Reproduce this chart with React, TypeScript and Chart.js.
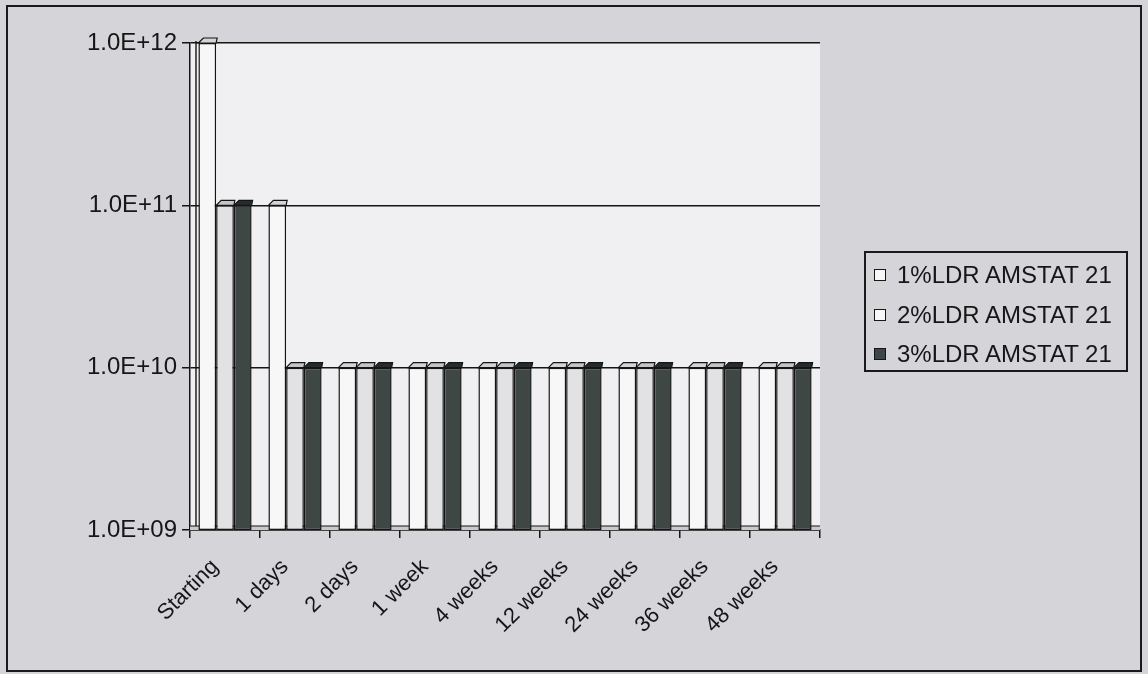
import React, { useEffect, useRef } from "react";
import { Chart, registerables } from "chart.js";

Chart.register(...registerables);

const categories = ["Starting", "1 days", "2 days", "1 week", "4 weeks", "12 weeks", "24 weeks", "36 weeks", "48 weeks"];
const seriesNames = ["1%LDR AMSTAT 21", "2%LDR AMSTAT 21", "3%LDR AMSTAT 21"];
const ldr1 = [1e12, 1e11, 1e10, 1e10, 1e10, 1e10, 1e10, 1e10, 1e10];
const ldr2 = [1e11, 1e10, 1e10, 1e10, 1e10, 1e10, 1e10, 1e10, 1e10];
const ldr3 = [1e11, 1e10, 1e10, 1e10, 1e10, 1e10, 1e10, 1e10, 1e10];
const yTicks = [1e9, 1e10, 1e11, 1e12];

const FILLS = ["#f7f7f8", "#e2e2e4", "#3f4745"];
const TOPS = ["#d4d4d6", "#c4c4c6", "#262c2b"];
const FONT = '"Liberation Sans", Arial, sans-serif';

const wallPlugin = {
  id: "wall",
  beforeDraw(chart: any) {
    const { ctx, chartArea } = chart;
    const { left, top, right, bottom } = chartArea;
    ctx.save();
    ctx.fillStyle = "#f0f0f2";
    ctx.fillRect(left, top, right - left, bottom - top);
    ctx.restore();
  },
  beforeDatasetsDraw(chart: any) {
    const { ctx, chartArea } = chart;
    const { left, top, right, bottom } = chartArea;
    ctx.save();
    // floor strip
    ctx.fillStyle = "#c9c9cc";
    ctx.fillRect(left, bottom - 4, right - left, 4);
    ctx.strokeStyle = "#151515";
    ctx.lineWidth = 1;
    ctx.beginPath();
    ctx.moveTo(left, bottom - 4);
    ctx.lineTo(right, bottom - 4);
    ctx.stroke();
    // left side wall edge
    ctx.lineWidth = 1.4;
    ctx.beginPath();
    ctx.moveTo(left + 6, top - 2);
    ctx.lineTo(left + 6, bottom - 4);
    ctx.stroke();
    ctx.restore();
  },
};

const topFacePlugin = {
  id: "topFace",
  afterDatasetsDraw(chart: any) {
    const { ctx } = chart;
    const d = 5;
    ctx.save();
    const n = chart.data.labels.length;
    for (let c = 0; c < n; c++) {
      for (let s = 0; s < chart.data.datasets.length; s++) {
        const el = chart.getDatasetMeta(s).data[c];
        if (!el) continue;
        const { x, y, width } = el.getProps(["x", "y", "width"], true);
        const x0 = x - width / 2;
        const x1 = x + width / 2;
        ctx.beginPath();
        ctx.moveTo(x0, y);
        ctx.lineTo(x0 + d, y - d);
        ctx.lineTo(x1 + d * 0.2, y - d);
        ctx.lineTo(x1, y);
        ctx.closePath();
        ctx.fillStyle = TOPS[s];
        ctx.fill();
        ctx.lineWidth = 1.2;
        ctx.strokeStyle = "#151515";
        ctx.stroke();
      }
    }
    ctx.restore();
  },
};

function fmt(v: number) {
  const e = Math.round(Math.log10(v));
  return "1.0E+" + String(e).padStart(2, "0");
}

export default function App() {
  const ref = useRef<HTMLCanvasElement | null>(null);

  useEffect(() => {
    if (!ref.current) return;
    const chart = new Chart(ref.current, {
      type: "bar",
      data: {
        labels: categories,
        datasets: [ldr1, ldr2, ldr3].map((data, i) => ({
          label: seriesNames[i],
          data,
          backgroundColor: FILLS[i],
          borderColor: "#151515",
          borderWidth: 1.5,
          borderSkipped: false,
          categoryPercentage: 0.76,
          barPercentage: 1.0,
        })),
      },
      options: {
        animation: false,
        responsive: false,
        devicePixelRatio: 1,
        layout: { padding: { left: 0, top: 43, right: 328, bottom: 0 } },
        plugins: {
          legend: { display: false },
          tooltip: { enabled: false },
        },
        scales: {
          x: {
            offset: true,
            grid: {
              display: true,
              offset: true,
              drawOnChartArea: false,
              drawTicks: true,
              tickLength: 8,
              color: "#151515",
              lineWidth: 1.5,
            },
            border: { display: true, color: "#151515", width: 1.5 },
            ticks: {
              minRotation: 45,
              maxRotation: 45,
              autoSkip: false,
              padding: 16,
              labelOffset: -10,
              color: "#161616",
              font: { family: FONT, size: 22 },
            },
            afterFit(scale: any) {
              scale.height = 144;
            },
          },
          y: {
            type: "logarithmic",
            min: 1e9,
            max: 1e12,
            afterBuildTicks(scale: any) {
              scale.ticks = yTicks.map((v) => ({ value: v }));
            },
            afterFit(scale: any) {
              scale.width = 190;
            },
            grid: {
              color: "#151515",
              lineWidth: 1.5,
              drawTicks: true,
              tickLength: 8,
            },
            border: { display: true, color: "#151515", width: 1.5 },
            ticks: {
              padding: 5,
              color: "#161616",
              font: { family: FONT, size: 24 },
              callback: (v: any) => fmt(Number(v)),
            },
          },
        },
      },
      plugins: [wallPlugin, topFacePlugin],
    });
    return () => chart.destroy();
  }, []);

  return (
    <div style={{ position: "fixed", left: 0, top: 0, width: 1148, height: 674, background: "#d4d4d9", overflow: "hidden" }}>
      <div
        style={{
          position: "absolute",
          left: 6,
          top: 5,
          width: 1136,
          height: 667,
          border: "2px solid #1a1a1a",
          boxSizing: "border-box",
        }}
      />
      <canvas ref={ref} width={1148} height={674} style={{ position: "absolute", left: 0, top: 0, width: 1148, height: 674 }} />
      <div
        style={{
          position: "absolute",
          left: 864,
          top: 251,
          width: 264,
          height: 121,
          border: "2px solid #1a1a1a",
          boxSizing: "border-box",
          fontFamily: FONT,
          fontSize: 24,
          color: "#161616",
        }}
      >
        {seriesNames.map((name, i) => (
          <div
            key={name}
            style={{ position: "absolute", left: 0, top: 8 + i * 39.5, height: 28, display: "flex", alignItems: "center", whiteSpace: "nowrap" }}
          >
            <span
              style={{
                display: "inline-block",
                width: 10,
                height: 10,
                marginLeft: 8,
                marginRight: 11,
                background: i === 2 ? FILLS[2] : "#f7f7f8",
                border: "1.5px solid #151515",
              }}
            />
            <span>{name}</span>
          </div>
        ))}
      </div>
    </div>
  );
}
